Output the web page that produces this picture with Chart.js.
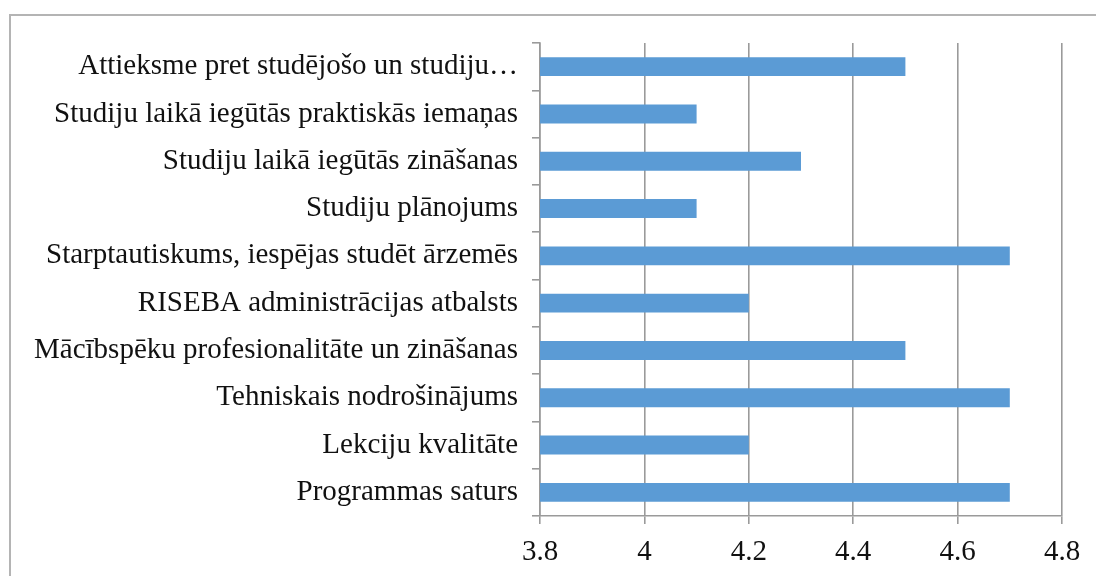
<!DOCTYPE html>
<html>
<head>
<meta charset="utf-8">
<script src="https://cdn.jsdelivr.net/npm/chart.js@4"></script>
<style>
    html, body { margin: 0; padding: 0; background: #fff; }
    #wrap { position: relative; width: 1096px; height: 576px; overflow: hidden; }
    #frame { position: absolute; left: 9px; top: 14px; width: 1200px; height: 700px; border: 2px solid #b4b4b4; }
    #chart { position: absolute; left: 0; top: 0; }
</style>
</head>
<body>
<div id="wrap">
    <div id="frame"></div>
    <canvas id="chart" width="1096" height="576"></canvas>
</div>
<script>
// categories, top to bottom as shown
const categories = [
    'Attieksme pret studējošo un studiju…',
    'Studiju laikā iegūtās praktiskās iemaņas',
    'Studiju laikā iegūtās zināšanas',
    'Studiju plānojums',
    'Starptautiskums, iespējas studēt ārzemēs',
    'RISEBA administrācijas atbalsts',
    'Mācībspēku profesionalitāte un zināšanas',
    'Tehniskais nodrošinājums',
    'Lekciju kvalitāte',
    'Programmas saturs'
];
const scores = [4.5, 4.1, 4.3, 4.1, 4.7, 4.2, 4.5, 4.7, 4.2, 4.7];
const xMin = 3.8;
const xMax = 4.8;
const xStep = 0.2;

document.addEventListener('DOMContentLoaded', function () {
    const ctx = document.getElementById('chart');

    new Chart(ctx, {
        type: 'bar',
        data: {
            labels: categories,
            datasets: [{
                data: scores,
                backgroundColor: '#5b9bd5',
                borderWidth: 0,
                barPercentage: 0.4,
                categoryPercentage: 1
            }]
        },
        options: {
            indexAxis: 'y',
            responsive: false,
            animation: false,
            layout: {padding: {top: 43, right: 34, bottom: 0, left: 0}},
            plugins: {
                legend: {display: false},
                tooltip: {enabled: false}
            },
            scales: {
                x: {
                    min: xMin,
                    max: xMax,
                    ticks: {
                        stepSize: xStep,
                        color: '#111',
                        font: {family: 'Liberation Serif', size: 29},
                        padding: 11,
                        callback: v => +v.toFixed(1)
                    },
                    grid: {color: '#9a9a9a', lineWidth: 1.6, tickLength: 8, tickColor: '#9a9a9a'},
                    border: {color: '#9a9a9a', width: 1.6},
                    afterFit: s => { s.height = 60; }
                },
                y: {
                    ticks: {
                        color: '#111',
                        font: {family: 'Liberation Serif', size: 29},
                        padding: 14
                    },
                    grid: {offset: true, drawOnChartArea: false, tickLength: 8, color: '#9a9a9a', lineWidth: 1.6},
                    border: {color: '#9a9a9a', width: 1.6},
                    afterFit: s => { s.width = 540; }
                }
            }
        }
    });
});
</script>
</body>
</html>
